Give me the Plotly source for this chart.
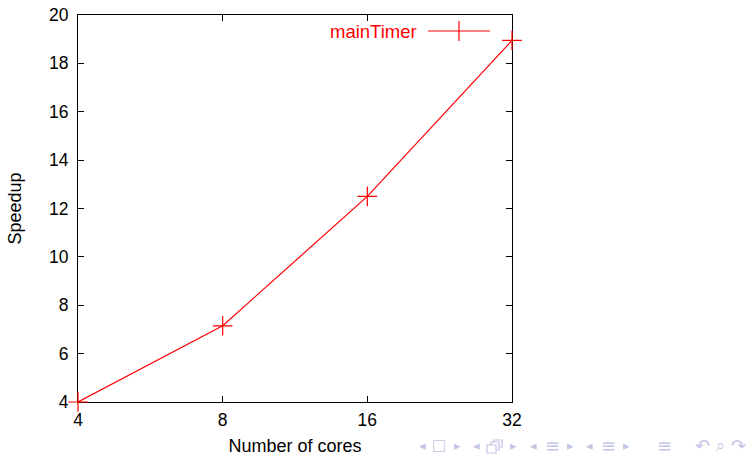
import math
import plotly.graph_objects as go

cores = [4, 8, 16, 32]
speedup = [4.0, 7.15, 12.5, 18.95]
y_ticks = [4, 6, 8, 10, 12, 14, 16, 18, 20]
series_name = "mainTimer"
nav_symbols = [("◂", 422, 13), ("□", 439, 15), ("▸", 457, 13), ("◂", 476, 13), ("▸", 513, 13),
               ("◂", 533, 13), ("≡", 552, 18), ("▸", 570, 13), ("◂", 589, 13), ("≡", 608, 18), ("▸", 626, 13),
               ("≡", 664, 18), ("↶", 702, 18), ("⌕", 720, 16), ("↷", 738, 18)]
NAV = "#c4c4e6"

L, R, T, B = 78, 512, 15, 402
W, H = 747, 456
px = lambda x: (x - L) / (R - L)
py = lambda y: (B - y) / (B - T)
FONT = "Liberation Sans, Arial, sans-serif"
RED = "#ff0000"

fig = go.Figure(go.Scatter(
    x=cores, y=speedup, mode="lines+markers", name=series_name, cliponaxis=False,
    line=dict(color=RED, width=1.2),
    marker=dict(symbol="cross-thin", size=14, line=dict(color=RED, width=1.2)),
    showlegend=False))

axis = dict(showline=True, linecolor="black", linewidth=1.2, mirror="ticks", ticks="inside",
            ticklen=6, tickwidth=1, tickcolor="black", showgrid=False, zeroline=False, layer="below traces",
            tickfont=dict(family=FONT, size=17.5, color="black"))
fig.update_xaxes(type="log", range=[math.log10(4) - 1e-6, math.log10(32) + 1e-6], tickvals=cores,
                 ticktext=[str(c) for c in cores], ticklabelstandoff=2,
                 title=dict(text="Number of cores", standoff=14, font=dict(family=FONT, size=18, color="black")), **axis)
fig.update_yaxes(range=[3.9999, 20], tickvals=y_ticks, ticklabelstandoff=5,
                 title=dict(text="Speedup", standoff=22, font=dict(family=FONT, size=18, color="black")), **axis)

annotations = [dict(text=series_name, xref="paper", yref="paper", x=px(416), y=py(31), xanchor="right",
                    xshift=3, yanchor="middle", showarrow=False, font=dict(family=FONT, size=18.5, color=RED))]
for s, x, size in nav_symbols:
    annotations.append(dict(text=s, xref="paper", yref="paper", x=px(x), y=py(445), xanchor="center",
                            yanchor="middle", showarrow=False,
                            font=dict(family="DejaVu Sans", size=size, color=NAV)))
shapes = [
    dict(type="line", xref="paper", yref="paper", x0=px(428), x1=px(490), y0=py(31), y1=py(31),
         line=dict(color=RED, width=1.2)),
    dict(type="line", xref="paper", yref="paper", x0=px(459), x1=px(459), y0=py(21), y1=py(41),
         line=dict(color=RED, width=1.2)),
]
for x0, y0, x1, y1 in [(494, 440, 502, 447), (491, 442, 499, 450), (487, 445, 496, 453)]:
    shapes.append(dict(type="rect", xref="paper", yref="paper", x0=px(x0), x1=px(x1), y0=py(y0), y1=py(y1),
                       line=dict(color=NAV, width=1.2), fillcolor="white"))

fig.update_layout(width=W, height=H, margin=dict(l=L, r=W - R, t=T, b=H - B, autoexpand=False),
                  paper_bgcolor="white", plot_bgcolor="white", annotations=annotations, shapes=shapes)
fig.write_html("out.html", config={"displayModeBar": False},
               post_script="document.body.style.margin='0';document.body.style.overflow='hidden';")
